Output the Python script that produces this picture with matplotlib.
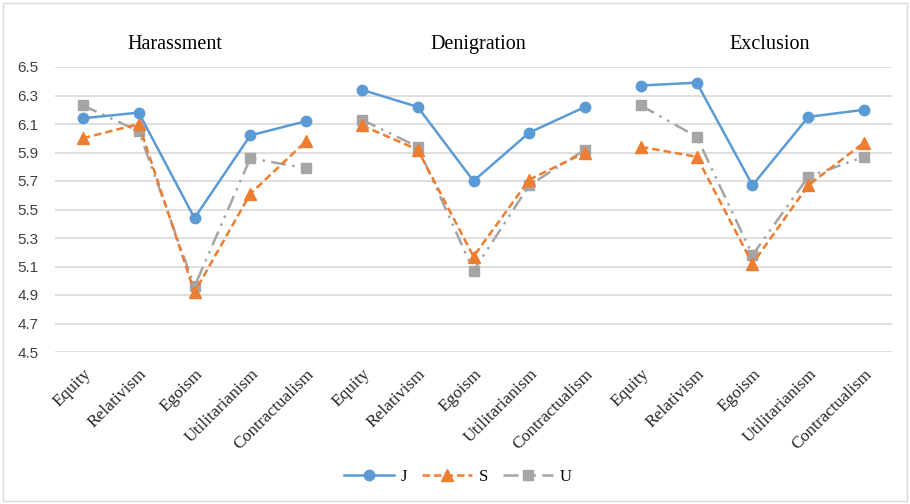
import matplotlib.pyplot as plt
from matplotlib.patches import Rectangle

# ethical reasoning scores by bullying type, three groups
groups = ['Harassment', 'Denigration', 'Exclusion']
criteria = ['Equity', 'Relativism', 'Egoism', 'Utilitarianism', 'Contractualism']

J = [[6.14, 6.18, 5.44, 6.02, 6.12],
     [6.34, 6.22, 5.70, 6.04, 6.22],
     [6.37, 6.39, 5.67, 6.15, 6.20]]
S = [[6.00, 6.10, 4.92, 5.61, 5.98],
     [6.09, 5.92, 5.17, 5.71, 5.90],
     [5.94, 5.87, 5.12, 5.67, 5.97]]
U = [[6.23, 6.05, 4.96, 5.86, 5.79],
     [6.13, 5.94, 5.07, 5.67, 5.92],
     [6.23, 6.01, 5.18, 5.73, 5.87]]

yticks = [4.5, 4.7, 4.9, 5.1, 5.3, 5.5, 5.7, 5.9, 6.1, 6.3, 6.5]

serif = 'Liberation Serif'
sans = 'Liberation Sans'

fig = plt.figure(figsize=(9.1, 5.04), dpi=100)
ax = fig.add_axes([55/910, 1 - 352/504, 837/910, 285/504])

styles = {
    'J': dict(color='#5B9BD5', marker='o', markersize=7.5, linestyle='-', linewidth=1.8),
    'S': dict(color='#ED7D31', marker='^', markersize=8.5, linestyle=(0, (3, 1.6)), linewidth=1.8),
    'U': dict(color='#A5A5A5', marker='s', markersize=7, linestyle=(0, (6, 2.5, 1, 2.5, 1, 2.5)), linewidth=1.8),
}

handles = {}
for g in range(3):
    xs = list(range(g * 5, g * 5 + 5))
    for name, data in (('U', U), ('S', S), ('J', J)):
        ln, = ax.plot(xs, data[g], clip_on=False, zorder=3, **styles[name])
        handles[name] = ln

ax.set_xlim(-0.5, 14.5)
ax.set_ylim(4.5, 6.5)
ax.set_yticks(yticks)
ax.set_yticklabels([f'{v:.1f}' for v in yticks], fontsize=11, family=sans, color='#404040')
ax.yaxis.grid(True, color='#D9D9D9', linewidth=1.2)
ax.set_axisbelow(True)
ax.tick_params(axis='y', length=0, pad=12)

ax.set_xticks(range(15))
ax.set_xticklabels(criteria * 3, rotation=45, ha='right', va='top',
                   rotation_mode='anchor', fontsize=12.5, family=serif, color='#262626')
ax.tick_params(axis='x', length=0, pad=10)

for s in ax.spines.values():
    s.set_visible(False)

# group titles above each block of five criteria
for label, xc in zip(groups, [175, 478, 770]):
    fig.text(xc / 910, 1 - 49 / 504, label, ha='center', va='baseline',
             fontsize=14.5, family=serif, color='black')

fig.legend([handles['J'], handles['S'], handles['U']], ['J', 'S', 'U'],
           loc='center', bbox_to_anchor=(458 / 910, 1 - 477 / 504), ncol=3,
           frameon=False, handlelength=3.0, columnspacing=0.9, handletextpad=0.4,
           prop={'family': serif, 'size': 12})

# thin frame around the whole chart area
fig.patches.append(Rectangle((0.003, 0.005), 0.994, 0.99, transform=fig.transFigure,
                             fill=False, edgecolor='#D9D9D9', linewidth=1))

fig.savefig('out.png', dpi=100, facecolor='white')
